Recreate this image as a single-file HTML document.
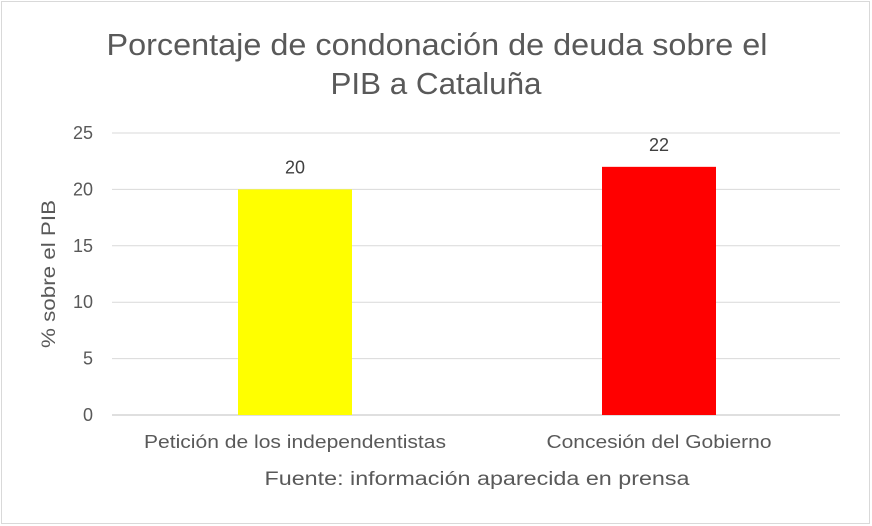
<!DOCTYPE html>
<html><head><meta charset="utf-8"><style>
body{margin:0;background:#fff}
svg{display:block;font-family:"Liberation Sans",sans-serif}
</style></head><body>
<svg id="c" width="872" height="526">
<rect x="1.5" y="1.5" width="868" height="522" fill="#fff" stroke="#d9d9d9"/>
<text text-anchor="middle" font-size="31" fill="#595959"><tspan x="437" y="55" textLength="661" lengthAdjust="spacingAndGlyphs">Porcentaje de condonación de deuda sobre el</tspan><tspan x="436" y="94" textLength="211" lengthAdjust="spacingAndGlyphs">PIB a Cataluña</tspan></text>
<text transform="translate(55,274) rotate(-90)" text-anchor="middle" font-size="19" fill="#595959" textLength="148" lengthAdjust="spacingAndGlyphs">% sobre el PIB</text>
<text x="477" y="485" text-anchor="middle" font-size="19" fill="#595959" textLength="425" lengthAdjust="spacingAndGlyphs">Fuente: información aparecida en prensa</text>
<g id="grid"></g><g id="bars"></g>
</svg>
<script>
const categories=["Petición de los independentistas","Concesión del Gobierno"];
const values=[20,22];
const colors=["#ffff00","#ff0000"];
const ticks=[0,5,10,15,20,25];
const labelWidths=[302,225];
const ns="http://www.w3.org/2000/svg";
const x0=112,x1=840,yTop=133,yBot=415,yMax=25;
const y=v=>yBot-(v/yMax)*(yBot-yTop);
const band=(x1-x0)/categories.length,bw=114;
const g=document.getElementById('grid'),b=document.getElementById('bars');
function mk(t,a,p){const e=document.createElementNS(ns,t);for(const k in a)e.setAttribute(k,a[k]);p.appendChild(e);return e;}
ticks.forEach(t=>{
 const l=mk('line',{x1:x0,x2:x1,y1:y(t),y2:y(t),stroke:t===0?'#bfbfbf':'#d9d9d9','stroke-width':1},g);
 
 
 const tx=mk('text',{x:93,y:y(t)+6,'text-anchor':'end','font-size':18,fill:'#595959'},g);
 tx.textContent=t;
 
 
});
categories.forEach((c,i)=>{
 const cx=x0+band*(i+0.5)+1;
 const r=mk('rect',{x:cx-bw/2,y:y(values[i]),width:bw,height:yBot-y(values[i]),fill:colors[i]},b);
 
 
 const v=mk('text',{x:cx,y:y(values[i])-16,'text-anchor':'middle','font-size':18,fill:'#404040'},b);
 v.textContent=values[i];
 
 
 const t=mk('text',{x:cx,y:448,'text-anchor':'middle','font-size':18,fill:'#595959',textLength:labelWidths[i],lengthAdjust:'spacingAndGlyphs'},b);
 t.textContent=c;
 
 
});
</script>
</body></html>
